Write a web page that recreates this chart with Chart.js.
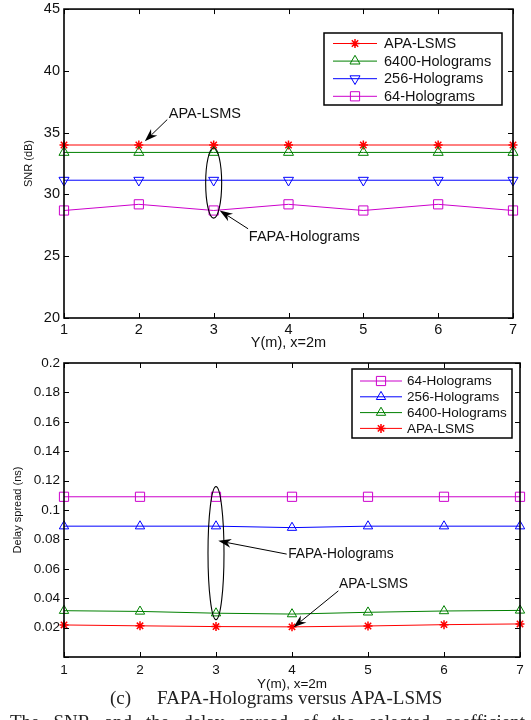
<!DOCTYPE html>
<html>
<head>
<meta charset="utf-8">
<title>FAPA-Holograms versus APA-LSMS</title>
<script src="https://cdn.jsdelivr.net/npm/chart.js@4.4.0/dist/chart.umd.min.js"></script>
<style>
  html, body { margin: 0; padding: 0; background: #fff; width: 531px; height: 720px; overflow: hidden; }
  canvas { position: absolute; left: 0; }
  #snr-chart { top: 0; }
  #delay-chart { top: 350px; }
  .serif { position: absolute; font-family: "Liberation Serif", "DejaVu Serif", serif; font-size: 19px; color: #222; white-space: nowrap; }
</style>
</head>
<body>
<canvas id="snr-chart" width="531" height="350"></canvas>
<canvas id="delay-chart" width="531" height="342"></canvas>
<div class="serif" style="left:110px; top:687px;">(c)</div>
<div class="serif" style="left:157px; top:687px;">FAPA-Holograms versus APA-LSMS</div>
<div class="serif" style="left:10px; top:711px; width:515px; text-align-last:justify;">The SNR and the delay spread of the selected coefficient</div>

<script>
// --- data -----------------------------------------------------------------
const Y_POSITIONS = [1, 2, 3, 4, 5, 6, 7];

// (top) SNR in dB
const SNR_APA_LSMS = [34.0, 34.0, 34.0, 34.0, 34.0, 34.0, 34.0];
const SNR_6400 = [33.4, 33.4, 33.4, 33.4, 33.4, 33.4, 33.4];
const SNR_256 = [31.15, 31.15, 31.15, 31.15, 31.15, 31.15, 31.15];
const SNR_64 = [28.7, 29.2, 28.7, 29.2, 28.7, 29.2, 28.7];
const SNR_TICKS = [20, 25, 30, 35, 40, 45];

// (bottom) delay spread in ns
const DS_64 = [0.109, 0.109, 0.109, 0.109, 0.109, 0.109, 0.109];
const DS_256 = [0.089, 0.089, 0.089, 0.088, 0.089, 0.089, 0.089];
const DS_6400 = [0.0315, 0.031, 0.0298, 0.0292, 0.0304, 0.0313, 0.0317];
const DS_APA_LSMS = [0.0218, 0.0212, 0.0207, 0.0205, 0.0211, 0.022, 0.0225];
const DS_TICKS = [0, 0.02, 0.04, 0.06, 0.08, 0.1, 0.12, 0.14, 0.16, 0.18, 0.2];

const FONT = '"Liberation Sans", Arial, sans-serif';
Chart.defaults.font.family = FONT;
Chart.defaults.color = '#111';

// marker / colour for each series
const STYLE = {
    'APA-LSMS':       { color: '#ff0000', pointStyle: 'star',     rotation: 0,   radius: 4.5, width: 1.5 },
    '6400-Holograms': { color: '#008000', pointStyle: 'triangle', rotation: 0,   radius: 5.8, width: 1 },
    '256-Holograms':  { color: '#0000ff', pointStyle: 'triangle', rotation: 180, radius: 5.8, width: 1 },
    '64-Holograms':   { color: '#cc00cc', pointStyle: 'rect',     rotation: 0,   radius: 6.5, width: 1 }
};

function makeDataset(name, values, extra = {}) {
    const s = Object.assign({}, STYLE[name], extra);
    return {
        label: name,
        data: values.map((v, i) => ({ x: Y_POSITIONS[i], y: v })),
        borderColor: s.color,
        borderWidth: 1,
        pointStyle: s.pointStyle,
        rotation: s.rotation,
        pointRadius: s.radius,
        pointBorderWidth: s.width,
        pointBorderColor: s.color,
        pointBackgroundColor: 'rgba(0,0,0,0)',
        clip: false,
        tension: 0
    };
}

// -----------------------------------------------------------------------------
// plugins: matlab style box with inward ticks, annotations, boxed legend
// -----------------------------------------------------------------------------

const matlabFrame = {
    id: 'matlabFrame',
    afterDatasetsDraw(chart) {
        const { ctx, chartArea: a, scales } = chart;
        const tl = 5;
        ctx.save();
        ctx.strokeStyle = '#000';
        ctx.lineWidth = 1;
        ctx.beginPath();
        scales.y.ticks.forEach(t => {
            const py = Math.round(scales.y.getPixelForValue(t.value)) + 0.5;
            ctx.moveTo(a.left, py); ctx.lineTo(a.left + tl, py);
            ctx.moveTo(a.right, py); ctx.lineTo(a.right - tl, py);
        });
        scales.x.ticks.forEach(t => {
            const px = Math.round(scales.x.getPixelForValue(t.value)) + 0.5;
            ctx.moveTo(px, a.bottom); ctx.lineTo(px, a.bottom - tl);
            ctx.moveTo(px, a.top); ctx.lineTo(px, a.top + tl);
        });
        ctx.stroke();
        ctx.lineWidth = 1.6;
        ctx.strokeRect(a.left, a.top, a.right - a.left, a.bottom - a.top);
        ctx.restore();
    }
};

function drawArrow(ctx, x1, y1, x2, y2) {
    const ang = Math.atan2(y2 - y1, x2 - x1);
    const len = 13, half = 4.5, notch = 9;
    ctx.beginPath();
    ctx.moveTo(x1, y1);
    ctx.lineTo(x2 - Math.cos(ang) * notch, y2 - Math.sin(ang) * notch);
    ctx.stroke();
    ctx.save();
    ctx.translate(x2, y2);
    ctx.rotate(ang);
    ctx.beginPath();
    ctx.moveTo(0, 0);
    ctx.lineTo(-len, -half);
    ctx.lineTo(-notch, 0);
    ctx.lineTo(-len, half);
    ctx.closePath();
    ctx.fill();
    ctx.restore();
}

const notes = {
    id: 'notes',
    afterDatasetsDraw(chart, args, opts) {
        const { ctx, scales: { x, y } } = chart;
        ctx.save();
        ctx.strokeStyle = '#000';
        ctx.fillStyle = '#000';
        ctx.lineWidth = 1.1;
        (opts.ellipses || []).forEach(e => {
            const cx = x.getPixelForValue(e.x);
            const y1 = y.getPixelForValue(e.y1), y2 = y.getPixelForValue(e.y2);
            ctx.beginPath();
            ctx.ellipse(cx, (y1 + y2) / 2, e.rx, Math.abs(y2 - y1) / 2, 0, 0, Math.PI * 2);
            ctx.stroke();
        });
        ctx.lineWidth = 1;
        (opts.arrows || []).forEach(ar => {
            drawArrow(ctx,
                x.getPixelForValue(ar.from[0]), y.getPixelForValue(ar.from[1]),
                x.getPixelForValue(ar.to[0]), y.getPixelForValue(ar.to[1]));
        });
        ctx.font = `${opts.fontSize}px ${FONT}`;
        ctx.fillStyle = '#111';
        ctx.textBaseline = 'middle';
        ctx.textAlign = 'left';
        (opts.labels || []).forEach(l => {
            ctx.fillText(l.text, x.getPixelForValue(l.x), y.getPixelForValue(l.y));
        });
        ctx.restore();
    }
};

const boxLegend = {
    id: 'boxLegend',
    afterDraw(chart, args, o) {
        const { ctx } = chart;
        ctx.save();
        ctx.fillStyle = '#fff';
        ctx.fillRect(o.left, o.top, o.width, o.height);
        ctx.strokeStyle = '#000';
        ctx.lineWidth = 1.5;
        ctx.strokeRect(o.left, o.top, o.width, o.height);
        ctx.font = `${o.fontSize}px ${FONT}`;
        ctx.textBaseline = 'middle';
        ctx.textAlign = 'left';
        o.order.forEach((name, i) => {
            const ds = chart.data.datasets.find(d => d.label === name);
            const rowY = o.top + o.firstRow + i * o.rowStep;
            ctx.strokeStyle = ds.borderColor;
            ctx.lineWidth = 1;
            ctx.beginPath();
            ctx.moveTo(o.left + o.lineFrom, rowY);
            ctx.lineTo(o.left + o.lineTo, rowY);
            ctx.stroke();
            ctx.lineWidth = ds.pointBorderWidth;
            ctx.fillStyle = 'rgba(0,0,0,0)';
            Chart.helpers.drawPoint(ctx, {
                pointStyle: ds.pointStyle,
                rotation: ds.rotation,
                radius: ds.pointRadius,
                borderWidth: ds.pointBorderWidth
            }, o.left + (o.lineFrom + o.lineTo) / 2, rowY);
            ctx.fillStyle = '#111';
            ctx.fillText(name, o.left + o.textX, rowY + 0.5);
        });
        ctx.restore();
    }
};

function baseOptions(cfg) {
    return {
        responsive: false,
        animation: false,
        events: [],
        layout: { padding: cfg.padding },
        plugins: {
            legend: { display: false },
            tooltip: { enabled: false },
            notes: cfg.notes,
            boxLegend: cfg.legend
        },
        scales: {
            x: {
                type: 'linear',
                min: 1, max: 7,
                grid: { display: false, drawTicks: false },
                border: { display: false },
                ticks: { stepSize: 1, padding: cfg.xTickPad, font: { size: cfg.tickSize }, color: '#111' },
                title: { display: true, text: 'Y(m), x=2m', font: { size: cfg.tickSize, lineHeight: 1 }, padding: { top: 0, bottom: cfg.xTitlePad }, color: '#111' },
                afterFit: s => { s.height = cfg.xHeight; }
            },
            y: {
                min: cfg.yMin, max: cfg.yMax,
                grid: { display: false, drawTicks: false },
                border: { display: false },
                afterBuildTicks: s => { s.ticks = cfg.yTicks.map(v => ({ value: v })); },
                ticks: {
                    padding: 4,
                    font: { size: cfg.tickSize, lineHeight: 0.7 },
                    color: '#111',
                    callback: v => (v === 0 ? '' : String(Number(v.toFixed(2))))
                },
                title: { display: true, text: cfg.yTitle, font: { size: 11 }, padding: { top: cfg.yTitlePad, bottom: 0 }, color: '#111' },
                afterFit: s => { s.width = 64; }
            }
        }
    };
}

// -----------------------------------------------------------------------------
// top chart : SNR
// -----------------------------------------------------------------------------
new Chart(document.getElementById('snr-chart'), {
    type: 'line',
    data: {
        datasets: [
            makeDataset('64-Holograms', SNR_64),
            makeDataset('256-Holograms', SNR_256),
            makeDataset('6400-Holograms', SNR_6400),
            makeDataset('APA-LSMS', SNR_APA_LSMS)
        ]
    },
    options: baseOptions({
        padding: { left: 0, right: 18, top: 7, bottom: 0 },
        yMin: 20, yMax: 45, yTicks: SNR_TICKS,
        yTitle: 'SNR (dB)', yTitlePad: 22,
        tickSize: 14.5, xTickPad: 3, xTitlePad: 0, xHeight: 32,
        notes: {
            fontSize: 14.5,
            ellipses: [{ x: 3, y1: 33.78, y2: 28.08, rx: 8 }],
            arrows: [
                { from: [2.38, 36.06], to: [2.08, 34.3] },
                { from: [3.46, 27.22], to: [3.08, 28.7] }
            ],
            labels: [
                { text: 'APA-LSMS', x: 2.4, y: 36.5 },
                { text: 'FAPA-Holograms', x: 3.47, y: 26.55 }
            ]
        },
        legend: {
            left: 324, top: 33, width: 178, height: 72,
            firstRow: 10.5, rowStep: 17.6,
            lineFrom: 9, lineTo: 53, textX: 60, fontSize: 14.5,
            order: ['APA-LSMS', '6400-Holograms', '256-Holograms', '64-Holograms']
        }
    }),
    plugins: [matlabFrame, notes, boxLegend]
});

// -----------------------------------------------------------------------------
// bottom chart : delay spread (both hologram sets use upward triangles here)
// -----------------------------------------------------------------------------
new Chart(document.getElementById('delay-chart'), {
    type: 'line',
    data: {
        datasets: [
            makeDataset('APA-LSMS', DS_APA_LSMS),
            makeDataset('6400-Holograms', DS_6400, { radius: 5.4 }),
            makeDataset('256-Holograms', DS_256, { radius: 5.4, rotation: 0 }),
            makeDataset('64-Holograms', DS_64)
        ]
    },
    options: baseOptions({
        padding: { left: 0, right: 11, top: 13, bottom: 0 },
        yMin: 0, yMax: 0.2, yTicks: DS_TICKS,
        yTitle: 'Delay spread (ns)', yTitlePad: 11,
        tickSize: 13.5, xTickPad: 5.5, xTitlePad: 1, xHeight: 35,
        notes: {
            fontSize: 13.8,
            ellipses: [{ x: 3, y1: 0.1159, y2: 0.0254, rx: 8 }],
            arrows: [
                { from: [3.93, 0.070], to: [3.03, 0.079] },
                { from: [4.61, 0.045], to: [4.02, 0.0202] }
            ],
            labels: [
                { text: 'FAPA-Holograms', x: 3.95, y: 0.070 },
                { text: 'APA-LSMS', x: 4.62, y: 0.0496 }
            ]
        },
        legend: {
            left: 352, top: 19, width: 160, height: 69,
            firstRow: 12, rowStep: 15.8,
            lineFrom: 8, lineTo: 50, textX: 55, fontSize: 13.5,
            order: ['64-Holograms', '256-Holograms', '6400-Holograms', 'APA-LSMS']
        }
    }),
    plugins: [matlabFrame, notes, boxLegend]
});
</script>
</body>
</html>
